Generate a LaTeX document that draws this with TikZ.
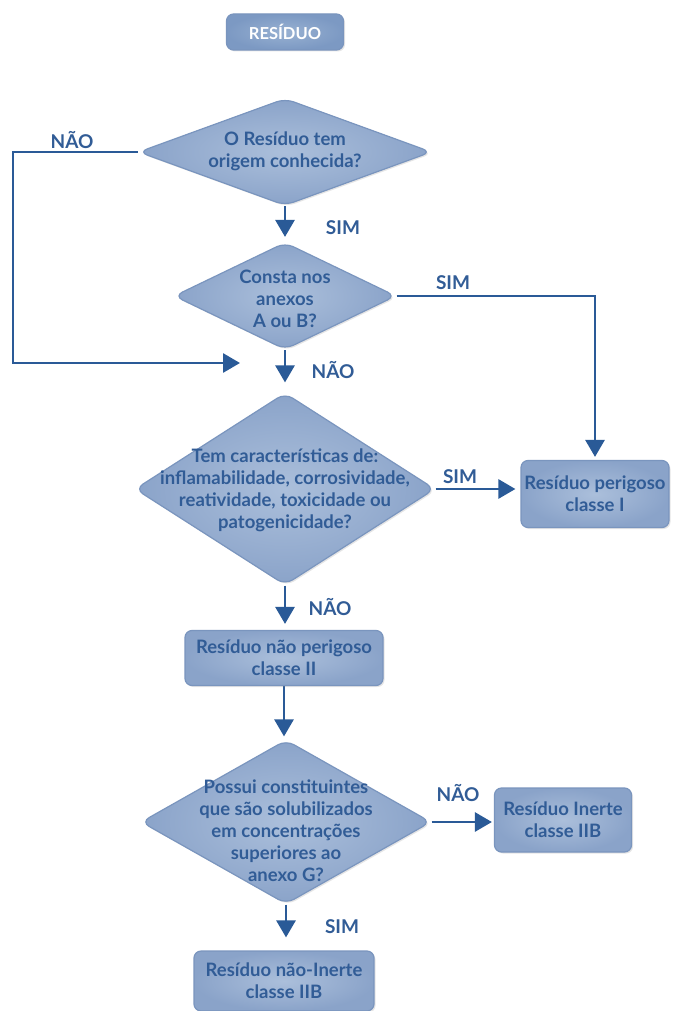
\documentclass[tikz,border=0pt]{standalone}
\usepackage{fontspec}
\setmainfont{Lato}
\usetikzlibrary{shapes.geometric,arrows.meta,shadows}
\definecolor{fillout}{HTML}{8AA3C9}
\definecolor{fillin}{HTML}{ABBFDB}
\definecolor{edgec}{HTML}{7A95BE}
\definecolor{ink}{HTML}{315C96}
\definecolor{arrc}{HTML}{2A5A97}
\definecolor{headin}{HTML}{98B1D2}
\definecolor{headout}{HTML}{7C99C3}
\pgfdeclarelayer{bg}
\pgfsetlayers{bg,main}
\begin{document}
\begin{tikzpicture}[x=1pt,y=-1pt,
  shapecommon/.style={draw=edgec, line width=1.2pt, shading=radial, inner color=fillin, outer color=fillout,
    drop shadow={shadow xshift=1.5pt, shadow yshift=-1.5pt, opacity=0.2}},
  boxnode/.style={shapecommon, rectangle, rounded corners=7pt, inner sep=0pt, align=center,
    text=ink, font=\fontsize{18.5}{22}\selectfont\bfseries},
  dianode/.style={shapecommon, diamond, rounded corners=9pt, inner sep=0pt},
  txt/.style={text=ink, font=\fontsize{18.5}{22}\selectfont\bfseries, align=center, inner sep=0pt},
  lbl/.style={text=ink, font=\fontsize{19}{22}\selectfont\bfseries, inner sep=0pt},
  arrow/.style={draw=arrc, line width=2.8pt, -{Triangle[width=19pt,length=17pt]}}
]
\begin{pgfonlayer}{bg}
\fill[white] (0,0) rectangle (672,1011);
\end{pgfonlayer}
\useasboundingbox (0,0) rectangle (672,1011);

% title
\node[boxnode, inner color=headin, outer color=headout, minimum width=117pt, minimum height=36pt,
  text=white, font=\fontsize{16.5}{18}\selectfont\bfseries] (res) at (285,32) {RESÍDUO};

% decisions
\node[dianode, minimum width=293pt, minimum height=107pt] (d1) at (285,152) {};
\node[txt] (d1t) at (285,151) {O Resíduo tem\\origem conhecida?};

\node[dianode, minimum width=222pt, minimum height=107pt] (d2) at (285,296) {};
\node[txt] (d2t) at (285,299) {Consta nos\\anexos\\A ou B?};

\node[dianode, minimum width=300pt, minimum height=192pt] (d3) at (285,489) {};
\node[txt] (d3t) at (285,490) {Tem características de:\\inflamabilidade, corrosividade,\\reatividade, toxicidade ou\\patogenicidade?};

\node[dianode, minimum width=290pt, minimum height=164pt] (d4) at (286,822) {};
\node[txt] (d4t) at (286,831) {Possui constituintes\\que são solubilizados\\em concentrações\\superiores ao\\anexo G?};

% results
\node[boxnode, minimum width=148pt, minimum height=67pt] (perig) at (595,494) {Resíduo perigoso\\classe I};
\node[boxnode, minimum width=198pt, minimum height=55pt] (box2) at (284,658) {Resíduo não perigoso\\classe II};
\node[boxnode, minimum width=137pt, minimum height=64pt] (inert) at (563,820) {Resíduo Inerte\\classe IIB};
\node[boxnode, minimum width=180pt, minimum height=60pt] (bot) at (284,981) {Resíduo não-Inerte\\classe IIB};

% labels
\node[lbl] (l1) at (72,140) {NÃO};
\node[lbl] (l2) at (343,228) {SIM};
\node[lbl] (l3) at (453,283) {SIM};
\node[lbl] (l4) at (333,370) {NÃO};
\node[lbl] (l5) at (460,477) {SIM};
\node[lbl] (l6) at (330,607) {NÃO};
\node[lbl] (l7) at (458,793) {NÃO};
\node[lbl] (l8) at (342,927) {SIM};

\coordinate (nl1) at (13,363);
\coordinate (nl2) at (240,363);

\begin{pgfonlayer}{bg}
\draw[arrow] (d1.west) -| (nl1) -- (nl2);
\draw[arrow, shorten >=5pt] (d1.south) -- (d1.south |- d2.north);
\draw[arrow, shorten >=10pt] (d2.south) -- (d2.south |- d3.north);
\draw[arrow, shorten >=3pt] (d2.east) -| (perig.north);
\draw[arrow, shorten >=5pt] (d3.east) -- (d3.east -| perig.west);
\draw[arrow, shorten >=6pt] (d3.south) -- (d3.south |- box2.north);
\draw[arrow, shorten >=3pt] (box2.south) -- (box2.south |- d4.north);
\draw[arrow, shorten >=2pt] (d4.east) -- (d4.east -| inert.west);
\draw[arrow, shorten >=13pt] (d4.south) -- (d4.south |- bot.north);
\end{pgfonlayer}
\end{tikzpicture}
\end{document}
